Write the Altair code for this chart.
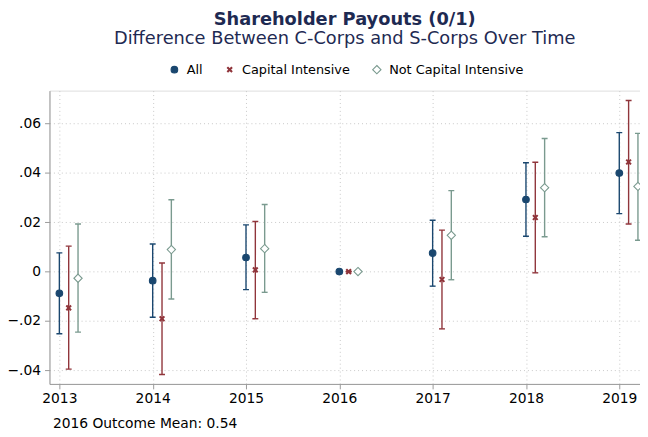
import altair as alt
import pandas as pd

years = [2013, 2014, 2015, 2016, 2017, 2018, 2019]
groups = ["All", "Capital Intensive", "Not Capital Intensive"]

all_est = [-0.0088, -0.0037, 0.0057, 0.0, 0.0075, 0.0292, 0.0399]
all_lo = [-0.0252, -0.0185, -0.0073, 0.0, -0.0059, 0.0143, 0.0235]
all_hi = [0.0076, 0.0112, 0.0189, 0.0, 0.0208, 0.0441, 0.0563]

cap_est = [-0.0147, -0.0191, 0.0007, 0.0, -0.0032, 0.0219, 0.0444]
cap_lo = [-0.0395, -0.0417, -0.0191, 0.0, -0.0232, -0.0005, 0.0193]
cap_hi = [0.0103, 0.0035, 0.0203, 0.0, 0.0168, 0.0443, 0.0693]

not_est = [-0.0027, 0.0089, 0.0093, 0.0, 0.0147, 0.0340, 0.0345]
not_lo = [-0.0245, -0.0111, -0.0084, 0.0, -0.0033, 0.0141, 0.0127]
not_hi = [0.0193, 0.0291, 0.0272, 0.0, 0.0328, 0.0539, 0.0560]

y_ticks = [-0.04, -0.02, 0.0, 0.02, 0.04, 0.06]
footnote = "2016 Outcome Mean: 0.54"

# horizontal dodge of the three series within a year
dodge = {"All": 0.0, "Capital Intensive": 0.1, "Not Capital Intensive": 0.2}

rows = []
for g, est, lo, hi in [
    ("All", all_est, all_lo, all_hi),
    ("Capital Intensive", cap_est, cap_lo, cap_hi),
    ("Not Capital Intensive", not_est, not_lo, not_hi),
]:
    for yr, e, l, h in zip(years, est, lo, hi):
        rows.append({"year": yr, "xpos": yr + dodge[g], "group": g, "est": e, "lo": l, "hi": h})
df = pd.DataFrame(rows)

NAVY = "#1a476f"
MAROON = "#90353b"
GREEN = "#7a9a8f"
FONT = "DejaVu Sans"

x_path = ("M-0.7,-0.5L-0.5,-0.7L0,-0.2L0.5,-0.7L0.7,-0.5L0.2,0L0.7,0.5L0.5,0.7"
          "L0,0.2L-0.5,0.7L-0.7,0.5L-0.2,0Z")
diamond_path = "M0,-1.25L1.25,0L0,1.25L-1.25,0Z"

x_enc = alt.X(
    "xpos:Q",
    scale=alt.Scale(domain=[2012.894, 2019.222], nice=False, zero=False),
    axis=alt.Axis(
        values=years, format="d", labelFontSize=14, labelFont=FONT, labelColor="black",
        tickSize=5, tickColor="#999999", domainColor="#999999", labelPadding=3,
        grid=True, gridDash=[1, 3], gridColor="#c8c8c8",
        title=footnote, titleAnchor="start", titleAlign="left", titleX=3, titleY=44,
        titleFontSize=14, titleFont=FONT, titleFontWeight="normal", titleColor="black",
        titleBaseline="alphabetic",
    ),
)
y_scale = alt.Scale(domain=[-0.0455, 0.0733], nice=False, zero=False)
y_axis = alt.Axis(
    values=y_ticks,
    labelExpr="datum.value == 0 ? '0' : replace(format(datum.value, '.2f'), '0.', '.')",
    labelFontSize=14, labelFont=FONT, labelColor="black", tickSize=5,
    tickColor="#999999", domainColor="#999999", labelPadding=4,
    grid=True, gridDash=[1, 3], gridColor="#c8c8c8", title=None,
)

# error-bar colour scale (domain listed in reverse so its hidden legend does not absorb the marker legend)
col_scale = alt.Scale(domain=groups[::-1], range=[GREEN, MAROON, NAVY])
base = alt.Chart(df)

rules = base.mark_rule(strokeWidth=1.4, clip=True).encode(
    x=x_enc,
    y=alt.Y("lo:Q", scale=y_scale, axis=y_axis),
    y2="hi:Q",
    color=alt.Color("group:N", scale=col_scale, legend=None),
)
caps_lo = base.mark_tick(orient="horizontal", size=6, thickness=1.4, clip=True, opacity=1).encode(
    x="xpos:Q", y="lo:Q", color=alt.Color("group:N", scale=col_scale, legend=None)
)
caps_hi = base.mark_tick(orient="horizontal", size=6, thickness=1.4, clip=True, opacity=1).encode(
    x="xpos:Q", y="hi:Q", color=alt.Color("group:N", scale=col_scale, legend=None)
)

leg = alt.Legend(
    orient="none", legendX=120, legendY=-28, direction="horizontal", title=None,
    labelFontSize=13, labelFont=FONT, labelColor="black", labelOffset=6,
    columnPadding=20, symbolStrokeWidth=1.1, symbolSize=45,
)
points = base.mark_point(strokeWidth=1.1, opacity=1, clip=True, size=45).encode(
    x="xpos:Q",
    y="est:Q",
    shape=alt.Shape("group:N", scale=alt.Scale(domain=groups, range=["circle", x_path, diamond_path]), legend=leg),
    fill=alt.Fill("group:N", scale=alt.Scale(domain=groups, range=[NAVY, MAROON, "white"]), legend=leg),
    stroke=alt.Stroke("group:N", scale=alt.Scale(domain=groups, range=[NAVY, MAROON, GREEN]), legend=leg),
)

chart = (
    alt.layer(rules, caps_lo, caps_hi, points)
    .properties(
        width=598,
        height=297,
        autosize=alt.AutoSizeParams(type="none"),
        padding={"left": 42, "top": 81, "right": 0, "bottom": 45},
        title=alt.TitleParams(
            text="Shareholder Payouts (0/1)",
            subtitle="Difference Between C-Corps and S-Corps Over Time",
            fontSize=18, subtitleFontSize=18, font=FONT, subtitleFont=FONT,
            fontWeight="bold", color="#1e2a52", subtitleColor="#1e2a52",
            anchor="middle", offset=15, subtitlePadding=1,
        ),
    )
    .configure_view(stroke=None)
    .configure(background="white")
)

chart.save("out.html", embed_options={"renderer": "svg", "actions": False})
